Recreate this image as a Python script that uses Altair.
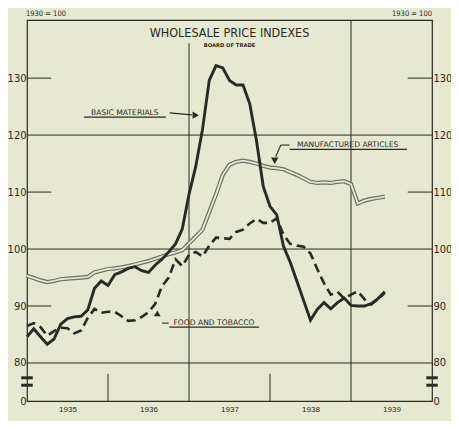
import altair as alt
import pandas as pd

# ---- data (monthly, Jan 1935 = month 0 ... Jun 1939 = month 53) ----
months = list(range(54))
basic_materials = [84.6, 86.0, 84.6, 83.3, 84.2, 86.8, 87.8, 88.1, 88.2, 89.3,
                   93.1, 94.4, 93.6, 95.5, 96.0, 96.6, 96.9, 96.2, 95.9, 97.2,
                   98.2, 99.5, 100.9, 103.5, 109.6, 114.5, 121.0, 129.6, 132.2, 131.8,
                   129.6, 128.8, 128.8, 125.5, 119.0, 111.0, 107.5, 106.0, 100.5, 97.7,
                   94.3, 90.9, 87.5, 89.4, 90.6, 89.5, 90.6, 91.4, 90.1, 90.0,
                   90.0, 90.4, 91.3, 92.5]
manufactured_articles = [95.3, 94.9, 94.5, 94.2, 94.4, 94.7, 94.8, 94.9, 95.0, 95.1,
                         95.9, 96.2, 96.5, 96.6, 96.8, 97.0, 97.3, 97.6, 97.9, 98.3,
                         98.7, 99.1, 99.4, 99.8, 101.0, 102.2, 103.4, 106.5, 109.6, 113.0,
                         114.8, 115.3, 115.5, 115.3, 115.0, 114.6, 114.3, 114.2, 114.0, 113.5,
                         113.0, 112.4, 111.8, 111.6, 111.7, 111.6, 111.8, 111.9, 111.4, 108.0,
                         108.5, 108.8, 109.0, 109.2]
food_and_tobacco = [86.5, 87.0, 86.3, 84.8, 85.6, 86.2, 86.1, 85.2, 85.7, 87.9,
                    89.5, 88.8, 89.0, 89.0, 88.2, 87.4, 87.5, 88.1, 88.9, 90.4,
                    93.5, 95.0, 98.2, 97.0, 99.0, 99.5, 98.7, 100.6, 102.0, 101.9,
                    101.8, 103.0, 103.4, 104.5, 105.3, 104.6, 104.6, 105.4, 102.5, 100.9,
                    100.6, 100.4, 99.2, 96.5, 94.0, 92.0, 92.5, 91.3, 92.0, 92.6,
                    91.2, 90.3, 91.2, 92.3]

year_label_months = [6, 18, 30, 42, 54]
y_break = 73.33          # position standing for "0" below the axis break
y_tick_values = [73.33, 80, 90, 100, 110, 120, 130]
full_grid_values = [80, 100, 120]
inner_tick_values = [90, 110, 130]

BG = "#e6e9cf"
INK = "#2a2a24"
FONT_N = "DejaVu Sans Condensed, DejaVu Sans, sans-serif"
FONT = "DejaVu Sans, sans-serif"

xs = alt.Scale(domain=[0, 60], nice=False, zero=False)
ys = alt.Scale(domain=[73.33, 140.2], nice=False, zero=False)

df = pd.DataFrame({"m": months, "basic": basic_materials,
                   "manuf": manufactured_articles, "food": food_and_tobacco})

label_expr = "datum.value < 75 ? '0' : format(datum.value, 'd')"

left_axis = alt.Axis(values=y_tick_values, labelExpr=label_expr, ticks=False, grid=False,
                     domain=False, labelFont=FONT_N, labelFontSize=11, labelColor=INK,
                     labelPadding=1, title=None)
right_axis = alt.Axis(values=y_tick_values, labelExpr=label_expr, ticks=False, grid=False,
                      domain=False, labelFont=FONT_N, labelFontSize=11, labelColor=INK,
                      labelPadding=1, title=None, orient="right")
x_axis = alt.Axis(values=year_label_months,
                  labelExpr="'' + (1935 + floor(datum.value / 12))",
                  ticks=False, grid=False, domain=False, labelFont="Liberation Sans, sans-serif",
                  labelFontSize=8, labelColor=INK, labelPadding=4, title=None)


def rules(data, width=1.0, color=INK):
    return alt.Chart(pd.DataFrame(data)).mark_rule(color=color, strokeWidth=width).encode(
        x=alt.X("x0:Q", scale=xs, axis=None), x2="x1:Q",
        y=alt.Y("y0:Q", scale=ys, axis=None), y2="y1:Q")


# horizontal full grid lines (carry the right axis)
hgrid = alt.Chart(pd.DataFrame({"y": full_grid_values, "x0": 0, "x1": 60})).mark_rule(
    color=INK, strokeWidth=1.0).encode(
    x=alt.X("x0:Q", scale=xs, axis=None), x2="x1:Q",
    y=alt.Y("y:Q", scale=ys, axis=right_axis))

inner_ticks = rules({
    "x0": [0] * 3 + [56.4] * 3, "x1": [3.6] * 3 + [60] * 3,
    "y0": inner_tick_values * 2, "y1": inner_tick_values * 2})

vlines = rules({"x0": [24, 48, 12, 36], "x1": [24, 48, 12, 36],
                "y0": [y_break] * 4, "y1": [136.1, 140.2, 78.1, 78.1]})

breaks = rules({"x0": [-0.85, -0.85, 59.15, 59.15], "x1": [0.85, 0.85, 60.85, 60.85],
                "y0": [77.4, 76.1, 77.4, 76.1], "y1": [77.4, 76.1, 77.4, 76.1]}, width=3)

base = alt.Chart(df)
manuf_outer = base.mark_line(color="#6f6f66", strokeWidth=4.2).encode(
    x=alt.X("m:Q", scale=xs, axis=None), y=alt.Y("manuf:Q", scale=ys, axis=None))
manuf_inner = base.mark_line(color=BG, strokeWidth=1.8).encode(
    x=alt.X("m:Q", scale=xs, axis=None), y=alt.Y("manuf:Q", scale=ys, axis=None))
food_line = base.mark_line(color=INK, strokeWidth=2.6, strokeDash=[9, 5]).encode(
    x=alt.X("m:Q", scale=xs, axis=None), y=alt.Y("food:Q", scale=ys, axis=None))
basic_axes = base.mark_line(opacity=0).encode(
    x=alt.X("m:Q", scale=xs, axis=x_axis), y=alt.Y("basic:Q", scale=ys, axis=left_axis))
basic_line = base.mark_line(color=INK, strokeWidth=2.9).encode(
    x=alt.X("m:Q", scale=xs, axis=None), y=alt.Y("basic:Q", scale=ys, axis=None))

# annotations
ann_text = alt.Chart(pd.DataFrame({
    "m": [14.5, 47.5, 27.7],
    "v": [123.86, 118.25, 87.02],
    "t": ["BASIC MATERIALS", "MANUFACTURED ARTICLES", "FOOD AND TOBACCO"]})).mark_text(
    font=FONT, fontSize=7.6, color=INK, baseline="middle", align="center").encode(
    x=alt.X("m:Q", scale=xs, axis=None), y=alt.Y("v:Q", scale=ys, axis=None), text="t:N")

ann_lines = rules({
    "x0": [8.43, 21.14, 38.9, 37.6, 37.6, 21.1, 20.0],
    "x1": [20.57, 24.4, 56.3, 38.9, 36.85, 34.4, 21.0],
    "y0": [123.16, 123.9, 117.5, 118.25, 118.25, 86.3, 87.0],
    "y1": [123.16, 123.55, 117.5, 118.25, 116.2, 86.3, 87.0]}, width=1.1)

arrow_r = alt.Chart(pd.DataFrame({"m": [25.0], "v": [123.5]})).mark_point(
    shape="triangle-right", filled=True, color=INK, opacity=1, size=55).encode(
    x=alt.X("m:Q", scale=xs, axis=None), y=alt.Y("v:Q", scale=ys, axis=None))
arrow_d = alt.Chart(pd.DataFrame({"m": [36.7], "v": [115.5]})).mark_point(
    shape="triangle-down", filled=True, color=INK, opacity=1, size=55).encode(
    x=alt.X("m:Q", scale=xs, axis=None), y=alt.Y("v:Q", scale=ys, axis=None))
arrow_u = alt.Chart(pd.DataFrame({"m": [19.3], "v": [88.7]})).mark_point(
    shape="triangle-up", filled=True, color=INK, opacity=1, size=45).encode(
    x=alt.X("m:Q", scale=xs, axis=None), y=alt.Y("v:Q", scale=ys, axis=None))

title = alt.Chart(pd.DataFrame({"m": [30.0], "v": [137.9], "t": ["WHOLESALE PRICE INDEXES"]})).mark_text(
    font=FONT_N, fontSize=12.5, color=INK, align="center", baseline="middle").encode(
    x=alt.X("m:Q", scale=xs, axis=None), y=alt.Y("v:Q", scale=ys, axis=None), text="t:N")
subtitle = alt.Chart(pd.DataFrame({"m": [30.0], "v": [135.8], "t": ["BOARD OF TRADE"]})).mark_text(
    font=FONT, fontSize=5.2, fontWeight="bold", color=INK, align="center", baseline="middle").encode(
    x=alt.X("m:Q", scale=xs, axis=None), y=alt.Y("v:Q", scale=ys, axis=None), text="t:N")
base_note = alt.Chart(pd.DataFrame({"m": [-0.15, 60.0], "v": [141.25, 141.25],
                                    "a": ["l", "r"], "t": ["1930 = 100", "1930 = 100"]}))
note_l = base_note.transform_filter("datum.a == 'l'").mark_text(
    font=FONT_N, fontSize=7.5, color=INK, align="left", baseline="middle").encode(
    x=alt.X("m:Q", scale=xs, axis=None), y=alt.Y("v:Q", scale=ys, axis=None), text="t:N")
note_r = base_note.transform_filter("datum.a == 'r'").mark_text(
    font=FONT_N, fontSize=7.5, color=INK, align="right", baseline="middle").encode(
    x=alt.X("m:Q", scale=xs, axis=None), y=alt.Y("v:Q", scale=ys, axis=None), text="t:N")

chart = alt.layer(
    basic_axes, hgrid, inner_ticks, vlines, breaks,
    manuf_outer, manuf_inner, food_line, basic_line,
    ann_lines, ann_text, arrow_r, arrow_d, arrow_u,
    title, subtitle, note_l, note_r
).resolve_scale(x="shared", y="shared").resolve_axis(x="independent", y="independent").properties(
    width=405, height=381,
    autosize=alt.AutoSizeParams(type="none"),
    padding={"left": 19, "top": 12, "right": 19, "bottom": 20},
).configure(background=BG).configure_view(stroke=INK, strokeWidth=1.2)

chart.save("out.html", embed_options={"renderer": "svg", "actions": False})
